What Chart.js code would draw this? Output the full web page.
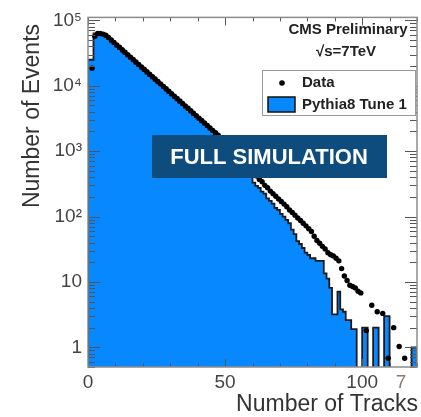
<!DOCTYPE html>
<html>
<head>
<meta charset="utf-8">
<script src="https://cdn.jsdelivr.net/npm/chart.js@4.4.0/dist/chart.umd.min.js"></script>
<style>
  html, body { margin: 0; padding: 0; background: #fff; }
  #grafico { display: block; }
</style>
</head>
<body>
<canvas id="grafico" width="421" height="417"></canvas>
<script>
// number of tracks, one bin per track (low edge)
const binLow = Array.from({ length: 120 }, (_, i) => i);

// data, null = empty bin
const dataEvents = [
  null, 18600, 57000, 63000, 63000, 61500,
  59400, 54600, 50000, 45900, 42100, 38700, 35500, 32600, 29900, 27400,
  25200, 23100, 21200, 19400, 17900, 16400, 15000, 13800, 12700, 11600,
  10700, 9790, 8980, 8240, 7560, 6940, 6370, 5840, 5360, 4920,
  4520, 4150, 3800, 3490, 3200, 2940, 2700, 2480, 2270, 2080,
  1910, 1760, 1610, 1450, 1320, 1180, 1070, 955, 850, 775,
  690, 630, 560, 510, 455, 415, 370, 340, 300, 275,
  245, 224, 204, 186, 170, 155, 141, 126, 115, 105,
  95, 87, 79, 72, 65, 59, 50, 43, 39, 35,
  32, 28, 26, 25, 23, 21, 16, 12.3, 10.5, 8.9,
  8.5, 8.1, 7.2, 6.8, null, 1.8, null, 4.4, null, 3.5,
  null, 3.3, null, 0.68, null, 2.0, null, 1.03, null, 0.68,
  null, null, null, null
];

// Pythia8 Tune 1 simulation
const mcEvents = [
  25000, 25000, 63000, 64000, 63000, 60500,
  56000, 51500, 47000, 43200, 39600, 36400, 33400, 30600, 28100, 25800,
  23700, 21700, 19900, 18200, 16800, 15400, 14100, 13000, 11900, 10900,
  10100, 9200, 8440, 7750, 7110, 6520, 5990, 5490, 5040, 4620,
  4250, 3900, 3570, 3280, 3010, 2760, 2540, 2330, 2130, 1960,
  1790, 1650, 1500, 1350, 1200, 1070, 955, 850, 760, 675,
  590, 525, 457, 400, 330, 295, 275, 240, 224, 190,
  174, 158, 135, 126, 110, 100, 89, 79, 63, 54,
  42, 38, 33, 28, 26, 23, 23, 21, 21, 21,
  13.5, 11.2, 8.1, 3.2, 3.2, 7.1, 3.8, 3.5, 2.6, 2.6,
  1.9, 1.9, 0, 0, 2.0, 2.0, 0, 0, 2.0, 2.0,
  0, 0, 3.0, 3.0, 0, 0, 0, 0, 0, 0,
  0, 0, 1.0, 1.0
];

const xMajorTicks = [0, 50, 100];
const xMinorTicks = [0, 10, 20, 30, 40, 50, 60, 70, 80, 90, 100, 110, 120];
const yMajorTicks = [1, 10, 100, 1000, 10000, 100000];
const yTickLabels = ["1", "10", "10²", "10³", "10⁴", "10⁵"];

const FONT = "'Liberation Sans', Arial, Helvetica, sans-serif";
const AZUL = "#0888ff";
const PISO = 0.05; // empty bins go below the axis

const ctx = document.getElementById("grafico");

// stepped outline for the histogram
const mcPuntos = [{ x: 0, y: PISO }];
binLow.forEach((b, i) => mcPuntos.push({ x: b, y: mcEvents[i] > 0 ? mcEvents[i] : PISO }));
mcPuntos.push({ x: 120, y: mcEvents[119] > 0 ? mcEvents[119] : PISO });
mcPuntos.push({ x: 120, y: PISO });

const dataPuntos = [];
binLow.forEach((b, i) => {
  if (dataEvents[i] != null) dataPuntos.push({ x: b + 0.5, y: dataEvents[i] });
});

const marco = {
  id: "marco",
  afterDatasetsDraw(chart) {
    const { ctx, chartArea: a, scales: { x, y } } = chart;
    ctx.save();
    ctx.strokeStyle = "#555";
    ctx.lineWidth = 1;
    ctx.beginPath();
    xMinorTicks.forEach(v => {
      const px = Math.round(x.getPixelForValue(v)) + 0.5;
      const len = xMajorTicks.includes(v) ? 8 : 4;
      ctx.moveTo(px, a.bottom); ctx.lineTo(px, a.bottom - len);
      ctx.moveTo(px, a.top); ctx.lineTo(px, a.top + len);
    });
    for (let d = -1; d <= 5; d++) {
      for (let m = 1; m <= 9; m++) {
        const v = m * Math.pow(10, d);
        if (v < y.min || v > y.max) continue;
        const py = Math.round(y.getPixelForValue(v)) + 0.5;
        const len = m === 1 ? 12 : 7;
        ctx.moveTo(a.left, py); ctx.lineTo(a.left + len, py);
        ctx.moveTo(a.right, py); ctx.lineTo(a.right - len, py);
      }
    }
    ctx.stroke();
    ctx.strokeStyle = "#8c8c8c";
    ctx.lineWidth = 1.5;
    ctx.strokeRect(a.left, a.top, a.right - a.left, a.bottom - a.top);
    ctx.restore();
  },
  afterDraw(chart) {
    const c = chart.ctx;
    c.save();
    // axis titles
    c.fillStyle = "#333";
    c.font = "23px " + FONT;
    c.textBaseline = "middle";
    c.textAlign = "right";
    c.fillText("Number of Tracks", 418, 405);
    c.save();
    c.translate(33, 116);
    c.rotate(-Math.PI / 2);
    c.textAlign = "center";
    c.fillText("Number of Events", 0, 0);
    c.restore();
    c.font = "19px " + FONT;
    c.fillStyle = "#8a7b72";
    c.textAlign = "center";
    c.fillText("7", 401, 383);

    // labels
    c.fillStyle = "#222";
    c.font = "bold 15px " + FONT;
    c.fillText("CMS Preliminary", 348, 30);
    c.fillText("√s=7TeV", 346, 52);

    // legend
    c.fillStyle = "#fff";
    c.fillRect(262, 70, 153, 45);
    c.strokeStyle = "#999";
    c.lineWidth = 1;
    c.strokeRect(262.5, 70.5, 153, 45);
    c.fillStyle = "#000";
    c.beginPath();
    c.arc(282, 83, 2.8, 0, Math.PI * 2);
    c.fill();
    c.fillStyle = AZUL;
    c.fillRect(268, 97, 27, 15);
    c.strokeStyle = "#111";
    c.lineWidth = 1.5;
    c.strokeRect(268, 97, 27, 15);
    c.fillStyle = "#222";
    c.textAlign = "left";
    c.fillText("Data", 302, 83);
    c.fillText("Pythia8 Tune 1", 302, 105);

    // banner
    c.fillStyle = "#0f4c7e";
    c.fillRect(152, 135, 235, 43);
    c.fillStyle = "#fff";
    c.font = "bold 22px " + FONT;
    c.textAlign = "center";
    c.fillText("FULL SIMULATION", 269, 158);
    c.restore();
  }
};

new Chart(ctx, {
  type: "line",
  data: {
    datasets: [
      {
        label: "Data",
        data: dataPuntos,
        showLine: false,
        pointRadius: 2.7,
        pointBackgroundColor: "#000",
        pointBorderWidth: 0
      },
      {
        label: "Pythia8 Tune 1",
        data: mcPuntos,
        stepped: "before",
        borderColor: "#1a1a1a",
        borderWidth: 1.8,
        backgroundColor: AZUL,
        fill: "start",
        pointRadius: 0,
        clip: 0
      }
    ]
  },
  options: {
    responsive: false,
    animation: false,
    layout: { padding: { top: 12, right: 3, left: 0, bottom: 0 } },
    plugins: { legend: { display: false }, tooltip: { enabled: false } },
    scales: {
      x: {
        type: "linear",
        min: 0,
        max: 120,
        grid: { display: false, drawTicks: false },
        border: { display: false },
        afterFit: s => { s.height = 50; },
        afterBuildTicks: s => { s.ticks = xMajorTicks.map(v => ({ value: v })); },
        ticks: {
          padding: 4,
          autoSkip: false,
          maxRotation: 0,
          color: "#444",
          font: { family: FONT, size: 19 },
          callback: v => String(v)
        }
      },
      y: {
        type: "logarithmic",
        min: 0.5,
        max: 1.11e5,
        grid: { display: false, drawTicks: false },
        border: { display: false },
        afterFit: s => { s.width = 88; },
        afterBuildTicks: s => { s.ticks = yMajorTicks.map(v => ({ value: v })); },
        ticks: {
          padding: 6,
          autoSkip: false,
          color: "#444",
          font: { family: FONT, size: 19 },
          callback: v => yTickLabels[yMajorTicks.indexOf(v)]
        }
      }
    }
  },
  plugins: [marco]
});
</script>
</body>
</html>
